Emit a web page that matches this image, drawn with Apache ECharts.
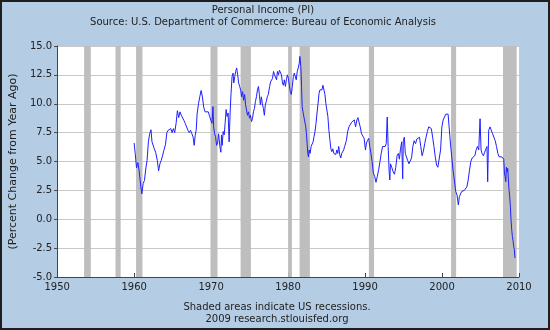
<!DOCTYPE html>
<html>
<head>
<meta charset="utf-8">
<script src="https://cdn.jsdelivr.net/npm/echarts@6/dist/echarts.min.js"></script>
<style>
  html, body { margin: 0; padding: 0; background: #b4cde4; }
  #chart { width: 550px; height: 330px; }
</style>
</head>
<body>
<div id="chart"></div>
<script>
// Personal income, percent change from a year ago (monthly readings, decimal years)
const years = [
  1960.0, 1960.14, 1960.31, 1960.48, 1960.65, 1960.87, 1961.0, 1961.17, 1961.34, 1961.51,
  1961.68, 1961.85, 1962.02, 1962.19, 1962.32, 1962.45, 1962.62, 1962.79, 1963.01, 1963.18,
  1963.35, 1963.52, 1963.69, 1963.86, 1964.08, 1964.25, 1964.42, 1964.59, 1964.76, 1964.93,
  1965.1, 1965.27, 1965.45, 1965.62, 1965.79, 1965.96, 1966.13, 1966.3, 1966.47, 1966.64,
  1966.82, 1966.99, 1967.16, 1967.33, 1967.5, 1967.67, 1967.8, 1967.93, 1968.06, 1968.18,
  1968.36, 1968.53, 1968.7, 1968.87, 1969.04, 1969.21, 1969.43, 1969.64, 1969.81, 1969.98,
  1970.11, 1970.24, 1970.33, 1970.45, 1970.58, 1970.71, 1970.84, 1970.97, 1971.05, 1971.14,
  1971.27, 1971.35, 1971.44, 1971.57, 1971.7, 1971.82, 1971.95, 1972.08, 1972.21, 1972.34,
  1972.47, 1972.59, 1972.72, 1972.85, 1972.94, 1973.07, 1973.19, 1973.32, 1973.45, 1973.58,
  1973.71, 1973.84, 1973.96, 1974.09, 1974.22, 1974.35, 1974.48, 1974.61, 1974.73, 1974.86,
  1974.99, 1975.12, 1975.25, 1975.38, 1975.5, 1975.63, 1975.76, 1975.89, 1976.02, 1976.15,
  1976.27, 1976.4, 1976.53, 1976.66, 1976.79, 1976.92, 1977.04, 1977.17, 1977.3, 1977.43,
  1977.6, 1977.73, 1977.85, 1977.98, 1978.11, 1978.24, 1978.37, 1978.5, 1978.62, 1978.75,
  1978.88, 1979.01, 1979.14, 1979.27, 1979.39, 1979.52, 1979.65, 1979.78, 1979.91, 1980.04,
  1980.16, 1980.29, 1980.42, 1980.55, 1980.68, 1980.81, 1980.94, 1981.06, 1981.19, 1981.32,
  1981.45, 1981.53, 1981.66, 1981.75, 1981.83, 1981.96, 1982.09, 1982.22, 1982.3, 1982.39,
  1982.47, 1982.56, 1982.65, 1982.73, 1982.86, 1982.99, 1983.12, 1983.25, 1983.37, 1983.5,
  1983.63, 1983.76, 1983.89, 1984.02, 1984.14, 1984.27, 1984.4, 1984.53, 1984.66, 1984.79,
  1984.91, 1985.04, 1985.17, 1985.3, 1985.43, 1985.56, 1985.68, 1985.81, 1985.94, 1986.07,
  1986.2, 1986.33, 1986.45, 1986.58, 1986.71, 1986.84, 1986.97, 1987.1, 1987.22, 1987.35,
  1987.48, 1987.57, 1987.74, 1987.91, 1988.09, 1988.26, 1988.43, 1988.6, 1988.77, 1988.94,
  1989.07, 1989.2, 1989.37, 1989.54, 1989.71, 1989.88, 1990.05, 1990.18, 1990.31, 1990.48,
  1990.61, 1990.74, 1990.91, 1991.08, 1991.25, 1991.42, 1991.59, 1991.77, 1991.94, 1992.1,
  1992.28, 1992.45, 1992.62, 1992.75, 1992.88, 1993.0, 1993.13, 1993.22, 1993.3, 1993.47,
  1993.65, 1993.82, 1993.99, 1994.16, 1994.33, 1994.46, 1994.59, 1994.76, 1994.89, 1994.97,
  1995.1, 1995.23, 1995.36, 1995.53, 1995.7, 1995.87, 1996.04, 1996.21, 1996.38, 1996.56,
  1996.73, 1996.9, 1997.07, 1997.24, 1997.41, 1997.58, 1997.75, 1997.92, 1998.1, 1998.27,
  1998.44, 1998.61, 1998.78, 1998.95, 1999.12, 1999.29, 1999.46, 1999.64, 1999.81, 1999.98,
  2000.15, 2000.32, 2000.49, 2000.66, 2000.79, 2000.92, 2001.09, 2001.26, 2001.43, 2001.6,
  2001.78, 2001.95, 2002.12, 2002.25, 2002.38, 2002.55, 2002.72, 2002.89, 2003.06, 2003.23,
  2003.4, 2003.57, 2003.74, 2003.91, 2004.09, 2004.26, 2004.43, 2004.6, 2004.77, 2004.94,
  2005.07, 2005.2, 2005.37, 2005.54, 2005.71, 2005.84, 2005.93, 2006.06, 2006.23, 2006.4,
  2006.57, 2006.74, 2006.91, 2007.08, 2007.25, 2007.42, 2007.6, 2007.77, 2007.94, 2008.02,
  2008.11, 2008.19, 2008.28, 2008.36, 2008.45, 2008.54, 2008.62, 2008.71, 2008.79, 2008.88,
  2008.96, 2009.05, 2009.14, 2009.22, 2009.31, 2009.39, 2009.48
];
const pctChange = [
  6.6, 5.7, 4.45, 4.9, 4.2, 2.8, 2.2, 3.1, 3.35, 4.35,
  5.1, 6.7, 7.4, 7.75, 6.7, 6.8, 6.1, 5.8, 5.1, 4.2,
  4.8, 5.1, 5.5, 5.95, 6.5, 7.5, 7.7, 7.7, 7.85, 7.5,
  7.85, 7.5, 8.3, 9.4, 8.8, 9.3, 9.0, 9.1, 8.55, 8.3,
  8.4, 7.7, 7.5, 7.7, 7.4, 7.1, 6.4, 7.25, 7.7, 9.1,
  10.0, 10.6, 11.15, 10.6, 9.7, 9.3, 9.2, 9.3, 8.9, 9.0,
  8.3, 9.75, 8.0, 7.4, 7.15, 6.4, 6.6, 7.4, 6.9, 6.3,
  5.8, 7.3, 6.4, 7.6, 7.3, 8.3, 9.5, 8.9, 9.2, 6.7,
  9.2, 10.9, 12.35, 12.65, 11.8, 12.35, 12.8, 13.1, 12.5, 11.8,
  11.5, 11.2, 10.6, 11.05, 10.3, 10.8, 9.9, 9.75, 9.0, 9.3,
  8.75, 9.0, 8.45, 8.75, 9.3, 9.6, 10.2, 10.6, 11.2, 11.5,
  10.8, 9.9, 10.6, 10.0, 9.6, 9.0, 9.9, 10.2, 10.6, 10.8,
  11.5, 11.9, 12.07, 12.2, 12.8, 12.5, 12.65, 12.07, 12.8, 12.5,
  12.9, 12.9, 12.5, 11.8, 11.6, 12.07, 11.5, 12.07, 12.5, 12.2,
  11.6, 11.05, 10.8, 11.5, 12.35, 12.65, 12.5, 12.07, 12.8, 13.1,
  13.5, 14.1, 13.2, 11.5, 9.75, 9.2, 8.75, 8.6, 8.0, 7.3,
  6.6, 5.7, 5.4, 6.0, 5.7, 6.3, 6.3, 6.7, 7.15, 7.6,
  8.3, 9.2, 10.0, 10.9, 11.2, 11.35, 11.2, 11.6, 11.5, 10.8,
  10.0, 9.9, 8.9, 7.7, 6.9, 6.1, 5.85, 6.1, 5.7, 5.85,
  5.6, 6.0, 5.7, 6.3, 5.6, 5.3, 5.7, 5.6, 6.0, 6.3,
  6.6, 6.8, 7.6, 8.0, 8.1, 8.4, 8.3, 8.6, 8.0, 8.6,
  8.8, 8.7, 8.0, 7.4, 7.2, 7.0, 6.0, 6.6, 6.8, 7.0,
  6.3, 5.8, 5.0, 4.0, 3.7, 3.2, 3.7, 4.3, 5.0, 5.7,
  6.3, 6.2, 6.3, 6.55, 8.85, 6.3, 4.1, 3.4, 4.8, 4.5,
  4.1, 3.9, 4.5, 5.5, 5.7, 5.2, 6.0, 6.7, 3.5, 6.8,
  7.1, 5.7, 5.6, 5.1, 4.8, 4.7, 5.3, 6.3, 6.8, 6.55,
  6.95, 6.95, 7.1, 6.3, 5.5, 5.9, 6.55, 7.1, 7.6, 8.0,
  8.1, 7.85, 7.1, 6.3, 5.4, 4.7, 4.5, 4.6, 6.0, 8.0,
  8.6, 8.85, 9.1, 8.95, 9.1, 8.0, 6.6, 5.4, 4.25, 3.4,
  2.4, 2.1, 1.24, 1.95, 2.1, 2.4, 2.25, 2.5, 2.4, 2.8,
  3.4, 4.25, 5.0, 5.3, 5.4, 5.5, 6.0, 6.3, 6.0, 8.7,
  6.0, 5.7, 5.5, 5.8, 6.1, 6.3, 3.25, 7.7, 8.0, 7.85,
  7.4, 7.3, 6.8, 6.3, 5.7, 5.4, 5.5, 5.4, 5.3, 5.2,
  4.0, 3.7, 3.25, 4.5, 4.1, 4.4, 3.4, 2.5, 2.0, 1.1,
  0.0, -0.9, -1.5, -1.8, -2.35, -2.6, -3.36
];

// US recessions (peak to trough, decimal years)
const recessionStart = [1953.5, 1957.58, 1960.25, 1969.92, 1973.83, 1980.0, 1981.5, 1990.5, 2001.17, 2007.92];
const recessionEnd   = [1954.37, 1958.25, 1961.08, 1970.83, 1975.17, 1980.5, 1982.83, 1991.17, 2001.83, 2009.7];

const xTicks = { min: 1950, max: 2010, step: 10 };
const yTicks = { min: -5, max: 15, step: 2.5 };

const seriesData = years.map((y, i) => [y, pctChange[i]]);
const shaded = recessionStart.map((s, i) => [{ xAxis: s }, { xAxis: recessionEnd[i] }]);

const font = 'DejaVu Sans';
const chart = echarts.init(document.getElementById('chart'), null, { renderer: 'canvas' });

chart.setOption({
  animation: false,
  backgroundColor: '#b4cde4',
  textStyle: { fontFamily: font },
  title: [
    {
      text: 'Personal Income (PI)',
      subtext: 'Source: U.S. Department of Commerce: Bureau of Economic Analysis',
      left: 263, top: 5, textAlign: 'center', itemGap: 2, padding: 0,
      textStyle: { fontFamily: font, fontSize: 10, fontWeight: 'normal', color: '#222' },
      subtextStyle: { fontFamily: font, fontSize: 10, color: '#222' }
    },
    {
      text: 'Shaded areas indicate US recessions.',
      subtext: '2009 research.stlouisfed.org',
      left: 277, top: 302, textAlign: 'center', itemGap: 2, padding: 0,
      textStyle: { fontFamily: font, fontSize: 10, fontWeight: 'normal', color: '#222' },
      subtextStyle: { fontFamily: font, fontSize: 10, color: '#222' }
    }
  ],
  grid: {
    left: 52, right: 31, top: 46, bottom: 53,
    show: true, backgroundColor: '#ffffff', borderWidth: 0
  },
  xAxis: {
    type: 'value',
    min: xTicks.min, max: xTicks.max, interval: xTicks.step,
    axisLine: { show: true, onZero: false, lineStyle: { color: '#444', width: 1 } },
    axisTick: { show: true, inside: true, length: 4, lineStyle: { color: '#444' } },
    axisLabel: { fontFamily: font, fontSize: 10, color: '#222', margin: 5, formatter: v => String(v) },
    splitLine: { show: false }
  },
  yAxis: {
    type: 'value',
    min: yTicks.min, max: yTicks.max, interval: yTicks.step,
    name: '(Percent Change from Year Ago)',
    nameLocation: 'middle', nameRotate: 90, nameGap: 35,
    nameTextStyle: { fontFamily: font, fontSize: 11, color: '#222' },
    axisLine: { show: true, onZero: false, lineStyle: { color: '#444', width: 1 } },
    axisTick: { show: true, length: 3, lineStyle: { color: '#444' } },
    axisLabel: { fontFamily: font, fontSize: 10, color: '#222', margin: 5, formatter: v => v.toFixed(1) },
    splitLine: { show: true, lineStyle: { color: '#c8c8c8', width: 1 } }
  },
  series: [
    {
      name: 'recessions', type: 'line', data: [], z: 1, silent: true,
      markArea: { silent: true, itemStyle: { color: '#bebebe' }, data: shaded }
    },
    {
      name: 'PI', type: 'line', data: seriesData, z: 3,
      showSymbol: false, symbol: 'none',
      lineStyle: { color: '#1f1fff', width: 1 }
    }
  ],
  graphic: [
    {
      type: 'rect', silent: true, z: 100,
      shape: { x: 1, y: 1, width: 548, height: 328 },
      style: { fill: 'none', stroke: '#1e1e1e', lineWidth: 2 }
    }
  ]
});
</script>
</body>
</html>
